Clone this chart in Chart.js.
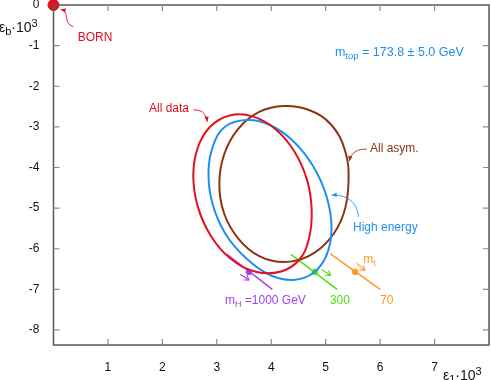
<!DOCTYPE html>
<html>
<head>
<meta charset="utf-8">
<script src="https://cdn.jsdelivr.net/npm/chart.js@4/dist/chart.umd.min.js"></script>
<style>
html,body{margin:0;padding:0;background:#fff;}
canvas{display:block;}
</style>
</head>
<body>
<canvas id="c" width="491" height="380"></canvas>
<script>
// ---- data ----
const xTicks = [1, 2, 3, 4, 5, 6, 7];
const yTicks = [0, -1, -2, -3, -4, -5, -6, -7, -8];

const bornX = [0];
const bornY = [0];

// closed contours (first point is not repeated; the curve is closed by the loop flag)
const allDataX = [4.743, 4.688, 4.510, 4.179, 3.720, 3.239, 2.886, 2.651, 2.568, 2.651, 2.886, 3.239, 3.656, 4.073, 4.425, 4.660];
const allDataY = [-5.079, -5.773, -6.278, -6.561, -6.568, -6.228, -5.674, -4.963, -4.202, -3.508, -2.986, -2.718, -2.742, -3.053, -3.607, -4.318];

const highEnergyX = [5.107, 5.020, 4.776, 4.411, 3.977, 3.544, 3.160, 2.917, 2.847, 2.934, 3.150, 3.544, 3.977, 4.411, 4.776, 5.020];
const highEnergyY = [-5.490, -6.145, -6.593, -6.767, -6.647, -6.241, -5.637, -4.874, -4.111, -3.456, -2.998, -2.834, -2.954, -3.360, -3.983, -4.732];

const allAsymX = [5.419, 5.329, 5.072, 4.686, 4.232, 3.779, 3.398, 3.136, 3.046, 3.136, 3.393, 3.779, 4.232, 4.693, 5.098, 5.358];
const allAsymY = [-4.357, -5.140, -5.766, -6.182, -6.327, -6.182, -5.756, -5.140, -4.407, -3.673, -3.048, -2.632, -2.486, -2.585, -2.942, -3.594];

// Higgs / top mass reference lines
const massLabels = ['1000', '300', '70'];
const massLineX1 = [3.18, 4.36, 5.08];
const massLineY1 = [-6.13, -6.14, -6.12];
const massLineX2 = [4.02, 5.21, 6.00];
const massLineY2 = [-7.00, -7.00, -7.00];
const massDotX = [3.59, 4.80, 5.54];
const massDotY = [-6.57, -6.57, -6.57];
const shiftX1 = [3.43, 4.93, 5.57];
const shiftY1 = [-6.63, -6.51, -6.36];
const shiftX2 = [3.59, 5.09, 5.72];
const shiftY2 = [-6.77, -6.66, -6.53];

// ---- styles ----
const RED = '#e3101e', BLUE = '#1e8ef0', BROWN = '#8a3414', PURPLE = '#a23ff0', GREEN = '#4fe014', ORANGE = '#ff9726';
const massColors = [PURPLE, GREEN, ORANGE];
const FONT = '"Liberation Sans", Arial, Helvetica, sans-serif';

function pts(xs, ys) { return xs.map((x, i) => ({x: x, y: ys[i]})); }

const datasets = [
  {data: pts(allDataX, allDataY), borderColor: RED, borderWidth: 2, showLine: true, pointRadius: 0, tension: 0.4, closed: true},
  {data: pts(highEnergyX, highEnergyY), borderColor: BLUE, borderWidth: 2, showLine: true, pointRadius: 0, tension: 0.4, closed: true},
  {data: pts(allAsymX, allAsymY), borderColor: BROWN, borderWidth: 2, showLine: true, pointRadius: 0, tension: 0.4, closed: true},
];
massLabels.forEach((m, i) => {
  datasets.push({data: [{x: massLineX1[i], y: massLineY1[i]}, {x: massLineX2[i], y: massLineY2[i]}],
    borderColor: massColors[i], borderWidth: 1.5, showLine: true, pointRadius: 0});
  datasets.push({data: [{x: massDotX[i], y: massDotY[i]}], backgroundColor: massColors[i], borderColor: massColors[i],
    pointRadius: 2.8, showLine: false});
});
datasets.push({data: pts(bornX, bornY), backgroundColor: RED, borderColor: RED, pointRadius: 5.5, clip: false, showLine: false});

// annotations (positions in data coordinates)
const texts = [
  {x: 0.445, y: -0.874, color: RED, parts: [['BORN', 12, 0]]},
  {x: 1.754, y: -2.643, color: RED, parts: [['All data', 12, 0]]},
  {x: 5.814, y: -3.613, color: BROWN, parts: [['All asym.', 12, 0]]},
  {x: 5.501, y: -5.567, color: BLUE, parts: [['High energy', 12, 0]]},
  {x: 5.171, y: -1.256, color: BLUE, parts: [['m', 12.5, 0], ['top', 9.5, 3], [' = 173.8 \u00b1 5.0 GeV', 12.5, 0]]},
  {x: 3.15, y: -7.36, color: PURPLE, parts: [['m', 12, 0], ['H', 9, 3], [' =1000 GeV', 12, 0]]},
  {x: 5.078, y: -7.36, color: GREEN, parts: [['300', 12, 0]]},
  {x: 6.0, y: -7.36, color: ORANGE, parts: [['70', 12, 0]]},
  {x: 5.69, y: -6.36, color: ORANGE, parts: [['m', 12, 0], ['t', 9, 3]]},
];
const curves = [
  {color: RED, p: [[0.364, -0.534], [0.156, -0.44], [0.32, -0.17], [0.132, -0.106]]},
  {color: RED, p: [[2.568, -2.586], [2.70, -2.57], [2.80, -2.64], [2.825, -2.874]]},
  {color: BROWN, p: [[5.753, -3.547], [5.58, -3.55], [5.47, -3.62], [5.434, -3.842]]},
  {color: BLUE, p: [[5.599, -5.214], [5.60, -4.95], [5.45, -4.66], [5.110, -4.680]]},
];

function drawRich(ctx, x, y, parts, color) {
  ctx.fillStyle = color;
  ctx.textAlign = 'left';
  ctx.textBaseline = 'alphabetic';
  let cx = x;
  parts.forEach(([t, size, dy]) => {
    ctx.font = size + 'px ' + FONT;
    ctx.fillText(t, cx, y + dy);
    cx += ctx.measureText(t).width;
  });
}

function arrowHead(ctx, x, y, ang, len, wid, filled) {
  ctx.beginPath();
  ctx.moveTo(x - len * Math.cos(ang) + wid * Math.sin(ang), y - len * Math.sin(ang) - wid * Math.cos(ang));
  ctx.lineTo(x, y);
  ctx.lineTo(x - len * Math.cos(ang) - wid * Math.sin(ang), y - len * Math.sin(ang) + wid * Math.cos(ang));
  if (filled) { ctx.closePath(); ctx.fill(); } else { ctx.stroke(); }
}

// make the contour lines closed, smooth loops
const closeLoops = {
  id: 'closeLoops',
  afterDatasetUpdate(chart, args) {
    const ds = chart.data.datasets[args.index];
    const line = args.meta.dataset;
    if (ds.closed && line) {
      line._loop = true;
      line._fullLoop = true;
      line._pointsUpdated = false;
      delete line._segments;
      delete line._path;
    }
  }
};

const decor = {
  id: 'decor',
  afterDatasetsDraw(chart) {
    const ctx = chart.ctx, xs = chart.scales.x, ys = chart.scales.y, a = chart.chartArea;
    ctx.save();
    // frame
    ctx.strokeStyle = '#5a5a5a';
    ctx.lineWidth = 1.5;
    ctx.strokeRect(a.left, a.top, a.right - a.left, a.bottom - a.top);
    // inward ticks
    ctx.strokeStyle = '#8a8a8a';
    ctx.lineWidth = 1.2;
    ctx.beginPath();
    xTicks.forEach(v => {
      const px = xs.getPixelForValue(v);
      ctx.moveTo(px, a.bottom); ctx.lineTo(px, a.bottom - 6);
      ctx.moveTo(px, a.top); ctx.lineTo(px, a.top + 6);
    });
    yTicks.forEach(v => {
      if (v === 0) return;
      const py = ys.getPixelForValue(v);
      ctx.moveTo(a.left, py); ctx.lineTo(a.left + 6, py);
      ctx.moveTo(a.right, py); ctx.lineTo(a.right - 6, py);
    });
    ctx.stroke();
    // annotation curves
    curves.forEach(c => {
      const q = c.p.map(([x, y]) => [xs.getPixelForValue(x), ys.getPixelForValue(y)]);
      ctx.strokeStyle = c.color; ctx.fillStyle = c.color; ctx.lineWidth = 0.9;
      ctx.beginPath();
      ctx.moveTo(q[0][0], q[0][1]);
      ctx.bezierCurveTo(q[1][0], q[1][1], q[2][0], q[2][1], q[3][0], q[3][1]);
      ctx.stroke();
      const ang = Math.atan2(q[3][1] - q[2][1], q[3][0] - q[2][0]);
      arrowHead(ctx, q[3][0], q[3][1], ang, 5, 2.2, true);
    });
    // mass shift arrows
    massLabels.forEach((m, i) => {
      const x1 = xs.getPixelForValue(shiftX1[i]), y1 = ys.getPixelForValue(shiftY1[i]);
      const x2 = xs.getPixelForValue(shiftX2[i]), y2 = ys.getPixelForValue(shiftY2[i]);
      ctx.strokeStyle = massColors[i]; ctx.lineWidth = 1.1;
      ctx.beginPath(); ctx.moveTo(x1, y1); ctx.lineTo(x2, y2); ctx.stroke();
      arrowHead(ctx, x2, y2, Math.atan2(y2 - y1, x2 - x1), 4.5, 3, false);
    });
    // texts
    texts.forEach(t => drawRich(ctx, xs.getPixelForValue(t.x), ys.getPixelForValue(t.y), t.parts, t.color));
    // axis titles
    drawRich(ctx, -1, 32, [['\u03b5', 14, 0], ['b', 11, 3], ['\u00b710', 14, 0], ['3', 11, -5]], '#111');
    drawRich(ctx, 443, 380, [['\u03b5', 14, 0], ['1', 11, 3], ['\u00b710', 14, 0], ['3', 11, -5]], '#111');
    ctx.restore();
  }
};

new Chart(document.getElementById('c'), {
  type: 'scatter',
  data: {datasets: datasets},
  options: {
    responsive: false,
    devicePixelRatio: 1,
    animation: false,
    layout: {autoPadding: false, padding: {top: 5, right: 2, left: 0, bottom: 0}},
    plugins: {legend: {display: false}, tooltip: {enabled: false}},
    scales: {
      x: {
        type: 'linear', position: 'bottom', min: 0, max: 8,
        grid: {display: false}, border: {display: false},
        afterFit: s => { s.height = 35; s.paddingLeft = 0; s.paddingRight = 0; },
        afterBuildTicks: s => { s.ticks = xTicks.map(v => ({value: v})); },
        ticks: {color: '#111', padding: 7, maxRotation: 0, font: {size: 12, family: FONT}}
      },
      y: {
        type: 'linear', min: -8.37, max: 0,
        grid: {display: false}, border: {display: false},
        afterFit: s => { s.width = 53.5; s.paddingTop = 0; s.paddingBottom = 0; },
        afterBuildTicks: s => { s.ticks = yTicks.map(v => ({value: v})); },
        ticks: {color: '#111', padding: 6, font: {size: 12, family: FONT}}
      }
    }
  },
  plugins: [closeLoops, decor]
});
</script>
</body>
</html>
